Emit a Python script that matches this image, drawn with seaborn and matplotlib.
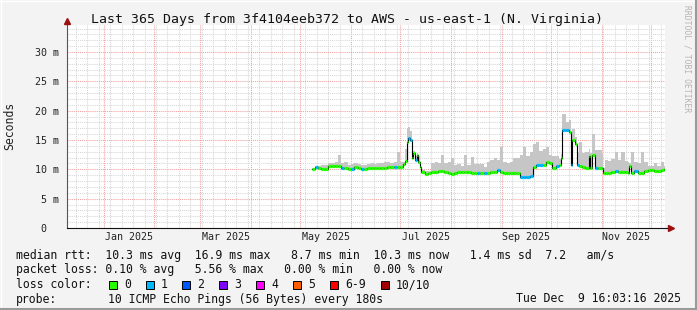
import numpy as np
import pandas as pd
import matplotlib
matplotlib.use("Agg")
import matplotlib.pyplot as plt
import matplotlib.dates as mdates
from matplotlib.ticker import MultipleLocator, FixedLocator
from matplotlib.patches import Rectangle
from matplotlib.lines import Line2D
import seaborn as sns

# ---------------- data ----------------
dates = [
    "2025-05-08", "2025-05-10", "2025-05-12", "2025-05-14", "2025-05-16", "2025-05-18",
    "2025-05-20", "2025-05-22", "2025-05-24", "2025-05-26", "2025-05-28", "2025-05-30",
    "2025-06-01", "2025-06-03", "2025-06-05", "2025-06-07", "2025-06-09", "2025-06-11",
    "2025-06-13", "2025-06-15", "2025-06-17", "2025-06-19", "2025-06-21", "2025-06-23",
    "2025-06-25", "2025-06-27", "2025-06-29", "2025-07-01", "2025-07-03", "2025-07-04",
    "2025-07-05", "2025-07-06", "2025-07-07", "2025-07-08", "2025-07-09", "2025-07-10",
    "2025-07-11", "2025-07-12", "2025-07-13", "2025-07-14", "2025-07-16", "2025-07-18",
    "2025-07-20", "2025-07-22", "2025-07-24", "2025-07-26", "2025-07-28", "2025-07-30",
    "2025-08-01", "2025-08-03", "2025-08-05", "2025-08-07", "2025-08-09", "2025-08-11",
    "2025-08-13", "2025-08-15", "2025-08-17", "2025-08-19", "2025-08-21", "2025-08-23",
    "2025-08-25", "2025-08-27", "2025-08-29", "2025-08-31", "2025-09-02", "2025-09-04",
    "2025-09-06", "2025-09-08", "2025-09-10", "2025-09-12", "2025-09-14", "2025-09-16",
    "2025-09-18", "2025-09-20", "2025-09-22", "2025-09-24", "2025-09-26", "2025-09-28",
    "2025-09-30", "2025-10-02", "2025-10-04", "2025-10-06", "2025-10-07", "2025-10-08",
    "2025-10-10", "2025-10-12", "2025-10-13", "2025-10-14", "2025-10-16", "2025-10-17",
    "2025-10-18", "2025-10-20", "2025-10-22", "2025-10-24", "2025-10-25", "2025-10-26",
    "2025-10-28", "2025-10-30", "2025-11-01", "2025-11-02", "2025-11-03", "2025-11-05",
    "2025-11-07", "2025-11-09", "2025-11-11", "2025-11-13", "2025-11-15", "2025-11-17",
    "2025-11-18", "2025-11-19", "2025-11-21", "2025-11-23", "2025-11-25", "2025-11-27",
    "2025-11-29", "2025-12-01", "2025-12-03", "2025-12-05", "2025-12-07", "2025-12-09",
]
median_ms = [
    10.0, 10.4, 10.3, 10.1, 10.0, 10.5,
    10.55, 10.55, 10.55, 10.3, 10.2, 10.1,
    10.0, 10.4, 10.2, 10.0, 10.1, 10.15,
    10.2, 10.2, 10.2, 10.3, 10.3, 10.35,
    10.4, 10.4, 10.4, 10.4, 10.9, 11.5,
    14.7, 15.3, 15.0, 11.9, 12.7, 11.6,
    12.4, 11.3, 10.4, 9.5, 9.2, 9.3,
    9.6, 9.6, 9.7, 9.7, 9.6, 9.3,
    9.25, 9.4, 9.5, 9.5, 9.5, 9.5,
    9.45, 9.4, 9.4, 9.35, 9.3, 9.3,
    9.6, 9.6, 9.9, 9.5, 9.4, 9.4,
    9.4, 9.4, 9.4, 8.75, 8.75, 8.75,
    8.8, 10.45, 10.7, 10.7, 10.7, 11.3,
    11.0, 10.2, 10.6, 10.7, 11.9, 16.7,
    16.7, 16.4, 10.7, 15.0, 14.4, 10.7,
    10.5, 10.45, 10.2, 12.3, 10.3, 12.4,
    10.3, 10.2, 10.2, 9.3, 9.3, 9.3,
    9.6, 9.7, 9.6, 9.6, 9.5, 9.3,
    10.6, 9.3, 9.8, 9.3, 9.3, 9.8,
    9.9, 9.9, 9.8, 9.8, 9.9, 10.0,
]
smoke_max_ms = [
    10.3, 10.6, 10.6, 10.7, 10.7, 11.0,
    11.0, 11.3, 12.4, 11.0, 11.3, 10.8,
    10.9, 11.0, 10.9, 10.8, 10.8, 10.9,
    11.0, 10.9, 11.1, 11.0, 11.3, 11.2,
    11.0, 11.3, 13.0, 11.2, 11.3, 13.5,
    17.0, 17.3, 16.5, 14.0, 13.2, 12.2,
    12.8, 12.2, 11.3, 9.9, 9.7, 9.8,
    11.0, 11.3, 11.1, 12.4, 11.0, 11.2,
    11.9, 10.8, 10.9, 10.6, 12.4, 10.8,
    12.1, 10.9, 10.9, 10.9, 10.4, 11.3,
    11.6, 11.9, 11.6, 13.8, 11.2, 11.1,
    11.3, 11.9, 11.9, 12.5, 13.8, 12.3,
    13.0, 14.4, 14.7, 13.2, 13.5, 13.8,
    12.5, 12.2, 12.3, 11.8, 12.6, 19.5,
    18.0, 18.4, 13.0, 16.8, 15.5, 12.9,
    14.7, 12.8, 13.0, 13.5, 12.8, 16.1,
    13.3, 13.3, 12.6, 10.2, 11.6, 11.5,
    11.7, 12.9, 11.6, 12.9, 11.5, 11.3,
    11.0, 12.9, 11.2, 11.0, 13.0, 11.2,
    10.6, 10.5, 11.0, 10.5, 11.2, 10.5,
]
loss_count = [
    0, 1, 0, 0, 0, 0,
    0, 0, 0, 1, 0, 0,
    1, 0, 0, 1, 0, 0,
    0, 0, 0, 0, 0, 0,
    0, 1, 0, 0, 0, 0,
    0, 1, 1, 0, 0, 1,
    0, 0, 0, 0, 0, 0,
    0, 0, 0, 0, 0, 0,
    0, 0, 0, 0, 0, 0,
    0, 0, 1, 0, 1, 0,
    0, 0, 1, 0, 0, 0,
    0, 0, 0, 1, 1, 1,
    1, 0, 1, 1, 0, 0,
    0, 0, 1, 0, 0, 1,
    1, 0, 1, 0, 0, 1,
    0, 0, 0, 0, 0, 0,
    1, 0, 0, 0, 0, 0,
    0, 1, 0, 0, 0, 0,
    0, 0, 1, 0, 0, 0,
    0, 0, 0, 0, 0, 0,
]

loss_labels = ["0", "1", "2", "3", "4", "5", "6-9", "10/10"]
loss_colors = ["#26ff00", "#00b8ff", "#0059ff", "#7e00ff", "#ff00ff", "#ff5e00", "#ff0000", "#a10000"]

month_labels = ["Jan 2025", "Mar 2025", "May 2025", "Jul 2025", "Sep 2025", "Nov 2025"]
month_starts = ["2025-01-01", "2025-03-01", "2025-05-01", "2025-07-01", "2025-09-01", "2025-11-01"]
month_ends = ["2025-02-01", "2025-04-01", "2025-06-01", "2025-08-01", "2025-10-01", "2025-12-01"]

y_ticks = [0, 5, 10, 15, 20, 25, 30]

title = "Last 365 Days from 3f4104eeb372 to AWS - us-east-1 (N. Virginia)"
t_start = "2024-12-09 16:03:16"
t_end = "2025-12-09 16:03:16"

rtt_line = "median rtt:  10.3 ms avg  16.9 ms max   8.7 ms min  10.3 ms now   1.4 ms sd  7.2   am/s"
loss_line = "packet loss: 0.10 % avg   5.56 % max   0.00 % min   0.00 % now"
probe_text = "10 ICMP Echo Pings (56 Bytes) every 180s"
stamp_text = "Tue Dec  9 16:03:16 2025"

# ---------------- figure ----------------
sns.set_theme(style="white")
plt.rcParams["font.family"] = ["DejaVu Sans Mono"]

W, H = 697, 310
BG = "#f3f3f3"
fig = plt.figure(figsize=(W / 100, H / 100), dpi=100, facecolor=BG)
ax = fig.add_axes([67 / W, 1 - 228 / H, 598 / W, 203 / H], facecolor="white")

x0 = mdates.date2num(pd.Timestamp(t_start))
x1 = mdates.date2num(pd.Timestamp(t_end))
xs = mdates.date2num(pd.to_datetime(dates))
xe = np.append(xs[1:], x1)
med = np.asarray(median_ms)
smk = np.asarray(smoke_max_ms)

ax.xaxis_date()
ax.set_xlim(x0, x1)
ax.set_ylim(0, 34.6)

# grid
ax.xaxis.set_major_locator(mdates.MonthLocator())
ax.xaxis.set_minor_locator(mdates.WeekdayLocator(byweekday=mdates.SU))
ax.yaxis.set_major_locator(FixedLocator(y_ticks))
ax.yaxis.set_minor_locator(MultipleLocator(1))
ax.grid(which="minor", color="#d6d6d6", linestyle=(0, (1, 1)), linewidth=0.75)
ax.grid(which="major", color="#f2a0a0", linestyle=(0, (1, 1)), linewidth=0.75)
ax.set_axisbelow(True)

ax.tick_params(axis="x", which="both", length=0, labelbottom=False)
ax.tick_params(axis="y", which="minor", length=0)
ax.tick_params(axis="y", which="major", length=3.5, width=0.8, color="#333333",
               pad=2, labelsize=7.2, labelcolor="#222222")
ax.set_yticklabels(["0  " if v == 0 else f"{v} m" for v in y_ticks])
ax.set_xlabel("")
ax.set_ylabel("")

for s in ["top", "right"]:
    ax.spines[s].set_visible(False)
ax.spines["left"].set_color("#555555")
ax.spines["left"].set_linewidth(0.8)
ax.spines["bottom"].set_color("#111111")
ax.spines["bottom"].set_linewidth(0.8)

# smoke
ax.fill_between(np.append(xs, x1), np.append(med, med[-1]), np.append(smk, smk[-1]),
                step="post", color="#c6c6c6", linewidth=0, zorder=2)

# median: thin black step line + loss coloured segments
sns.lineplot(x=np.append(xs, x1), y=np.append(med, med[-1]), drawstyle="steps-post",
             estimator=None, color="black", linewidth=0.8, ax=ax, zorder=3)
seg_colors = [loss_colors[min(int(c), 7)] for c in loss_count]
ax.hlines(med, xs, xe, colors=seg_colors, linewidth=2.3, zorder=4)

# axis extensions + arrows
ax.plot([0, 0], [1.0, 1.015], transform=ax.transAxes, color="#555555", lw=0.8, clip_on=False)
ax.plot([1.0, 1.008], [0, 0], transform=ax.transAxes, color="#111111", lw=0.8, clip_on=False)
ax.plot([0], [1.02], transform=ax.transAxes, marker="^", color="#9b1010", markersize=4.5,
        clip_on=False, zorder=6)
ax.plot([1.01], [0], transform=ax.transAxes, marker=">", color="#9b1010", markersize=4.5,
        clip_on=False, zorder=6)

# month labels (centered on month span)
for lab, a, b in zip(month_labels, month_starts, month_ends):
    xa = mdates.date2num(pd.Timestamp(a))
    xb = mdates.date2num(pd.Timestamp(b))
    ax.text((xa + xb) / 2, -9 / 203, lab, transform=ax.get_xaxis_transform(),
            ha="center", va="center", fontsize=7.2, color="#222222")

# texts
fig.text(347 / W, 1 - 19 / H, title, ha="center", va="center", fontsize=9.5, color="#111111")
fig.text(10 / W, 1 - 126 / H, "Seconds", rotation=90, ha="center", va="center",
         fontsize=8.3, color="#222222")
fig.text(687 / W, 1 - 5 / H, "RRDTOOL / TOBI OETIKER", rotation=270, ha="center", va="top",
         fontsize=5.8, color="#b4b4b4")

FS = 8.3
def ftxt(x, y, s, ha="left"):
    fig.text(x / W, 1 - y / H, s, ha=ha, va="center", fontsize=FS, color="#111111")

y1, y2, y3, y4 = 255.5, 270, 284.5, 299
ftxt(16, y1, rtt_line)
ftxt(16, y2, loss_line)
ftxt(16, y3, "loss color:")
box_x = [109, 146, 182, 219, 256, 293, 330, 381]
for bx, c, lab in zip(box_x, loss_colors, loss_labels):
    fig.add_artist(Rectangle((bx / W, 1 - (y3 + 4) / H), 8 / W, 8 / H, transform=fig.transFigure,
                             facecolor=c, edgecolor="black", linewidth=0.7))
    ftxt(bx + 15, y3, lab)
ftxt(16, y4, "probe:")
ftxt(107.6, y4, probe_text)
ftxt(681, y4, stamp_text, ha="right")

# frame
fig.add_artist(Line2D([0, 1], [1 - 0.5 / H, 1 - 0.5 / H], transform=fig.transFigure, color="#ffffff", lw=1))
fig.add_artist(Line2D([0.5 / W, 0.5 / W], [0, 1], transform=fig.transFigure, color="#ffffff", lw=1))
fig.add_artist(Line2D([0, 1], [1.0 / H, 1.0 / H], transform=fig.transFigure, color="#9a9a9a", lw=1.5))
fig.add_artist(Line2D([1 - 1.0 / W, 1 - 1.0 / W], [0, 1], transform=fig.transFigure, color="#9a9a9a", lw=1.5))

fig.savefig("out.png", dpi=100, facecolor=BG)
